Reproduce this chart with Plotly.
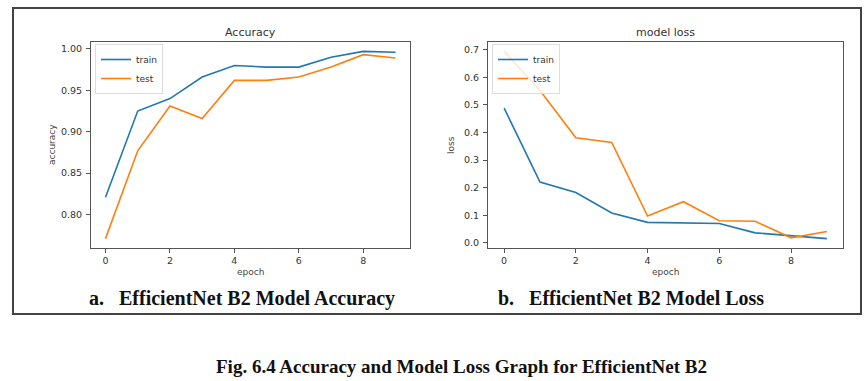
import plotly.graph_objects as go

W, H = 868, 381

epochs = list(range(10))
acc_train = [0.821, 0.925, 0.940, 0.966, 0.980, 0.978, 0.978, 0.990, 0.997, 0.996]
acc_test = [0.771, 0.877, 0.931, 0.916, 0.962, 0.962, 0.966, 0.978, 0.993, 0.989]
loss_train = [0.488, 0.220, 0.182, 0.108, 0.074, 0.071, 0.070, 0.036, 0.025, 0.015]
loss_test = [0.694, 0.552, 0.381, 0.364, 0.097, 0.149, 0.080, 0.078, 0.018, 0.041]

acc_ticks = [0.80, 0.85, 0.90, 0.95, 1.00]
loss_ticks = [0.0, 0.1, 0.2, 0.3, 0.4, 0.5, 0.6, 0.7]
x_ticks = [0, 2, 4, 6, 8]

BLUE = "#1f77b4"
ORANGE = "#ff7f0e"

def px(x):
    return x / W

def py(y):
    return 1 - y / H

fig = go.Figure()
fig.add_trace(go.Scatter(x=epochs, y=acc_train, mode="lines", name="train",
                         line=dict(color=BLUE, width=1.6), xaxis="x", yaxis="y", legend="legend"))
fig.add_trace(go.Scatter(x=epochs, y=acc_test, mode="lines", name="test",
                         line=dict(color=ORANGE, width=1.6), xaxis="x", yaxis="y", legend="legend"))
fig.add_trace(go.Scatter(x=epochs, y=loss_train, mode="lines", name="train",
                         line=dict(color=BLUE, width=1.6), xaxis="x2", yaxis="y2", legend="legend2"))
fig.add_trace(go.Scatter(x=epochs, y=loss_test, mode="lines", name="test",
                         line=dict(color=ORANGE, width=1.6), xaxis="x2", yaxis="y2", legend="legend2"))

tickfont = dict(family="DejaVu Sans", size=9.5, color="#333333")
axcommon = dict(showgrid=False, zeroline=False, showline=True, mirror=True,
                linecolor="#555555", linewidth=1, ticks="outside", ticklen=4,
                tickcolor="#555555", tickfont=tickfont)

def pad_range(vals):
    lo, hi = min(vals), max(vals)
    d = (hi - lo) * 0.05
    return [lo - d, hi + d]

titlefont = dict(family="DejaVu Sans", size=9, color="#444444")

fig.update_layout(
    width=W, height=H,
    margin=dict(l=0, r=0, t=0, b=0),
    paper_bgcolor="white", plot_bgcolor="white",
    xaxis=dict(domain=[px(91), px(410)], range=[-0.45, 9.45], tickvals=x_ticks,
               anchor="y", **axcommon),
    yaxis=dict(domain=[py(248), py(42)], range=pad_range(acc_train + acc_test),
               tickvals=acc_ticks, tickformat=".2f", ticklabelstandoff=2,
               anchor="x", **axcommon),
    xaxis2=dict(domain=[px(488), px(843)], range=[-0.45, 9.45], tickvals=x_ticks,
                anchor="y2", **axcommon),
    yaxis2=dict(domain=[py(248), py(42)], range=pad_range(loss_train + loss_test),
                tickvals=loss_ticks, tickformat=".1f", ticklabelstandoff=2,
                anchor="x2", **axcommon),
    legend=dict(x=px(95), y=py(44), xanchor="left", yanchor="top",
                bgcolor="rgba(255,255,255,0.8)", bordercolor="#dddddd", borderwidth=1,
                font=dict(family="DejaVu Sans", size=9, color="#333333"),
                tracegroupgap=0, itemwidth=30),
    legend2=dict(x=px(492), y=py(44), xanchor="left", yanchor="top",
                 bgcolor="rgba(255,255,255,0.8)", bordercolor="#dddddd", borderwidth=1,
                 font=dict(family="DejaVu Sans", size=9, color="#333333"),
                 tracegroupgap=0, itemwidth=30),
    showlegend=True,
)

def note(text, x, y, font, angle=0, xanchor="center"):
    fig.add_annotation(text=text, x=px(x), y=py(y), xref="paper", yref="paper",
                       xanchor=xanchor, yanchor="middle", textangle=angle,
                       showarrow=False, font=font)

# chart titles
note("Accuracy", (91 + 410) / 2, 32, dict(family="DejaVu Sans", size=11, color="#333333"))
note("model loss", (488 + 843) / 2, 32, dict(family="DejaVu Sans", size=11, color="#333333"))

# axis titles
note("epoch", (91 + 410) / 2, 272, titlefont)
note("epoch", (488 + 843) / 2, 272, titlefont)
note("accuracy", 52, 145, titlefont, angle=-90)
note("loss", 451, 145, titlefont, angle=-90)

# sub-captions
note("<b>a.   EfficientNet B2 Model Accuracy</b>", 87, 298,
     dict(family="Liberation Serif", size=20, color="#111111"), xanchor="left")
note("<b>b.   EfficientNet B2 Model Loss</b>", 496, 298,
     dict(family="Liberation Serif", size=20, color="#111111"), xanchor="left")
note("<b>Fig. 6.4 Accuracy and Model Loss Graph for EfficientNet B2</b>", 461, 366,
     dict(family="Liberation Serif", size=19, color="#111111"))

# outer frame
fig.add_shape(type="rect", xref="paper", yref="paper", x0=px(13), x1=px(861), y0=py(314), y1=py(8),
              line=dict(color="#444444", width=2))

fig.write_html("out.html", config={"displayModeBar": False},
               post_script="document.body.style.margin='0';document.body.style.padding='0';")
